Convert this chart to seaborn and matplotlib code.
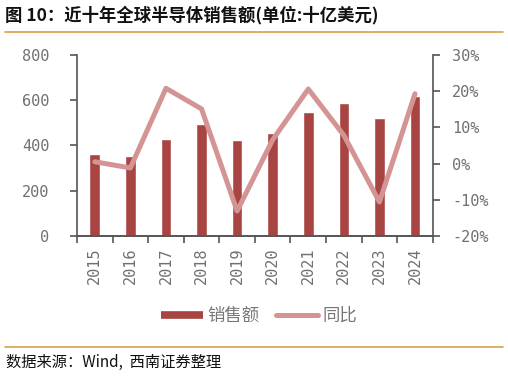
import numpy as np
import pandas as pd
import matplotlib
matplotlib.use("Agg")
import matplotlib.pyplot as plt
from matplotlib.lines import Line2D
import seaborn as sns

# 近十年全球半导体销售额 (十亿美元) 及同比
years = ["2015", "2016", "2017", "2018", "2019", "2020", "2021", "2022", "2023", "2024"]
sales = [362, 354, 427, 494, 426, 454, 547, 586, 520, 619]
yoy = [0.5, -1.2, 20.8, 15.1, -13.1, 6.6, 20.6, 7.8, -10.6, 19.3]

df = pd.DataFrame({"year": years, "sales": sales, "yoy": yoy})

sns.set_style("ticks")
plt.rcParams["font.family"] = ["Noto Sans CJK SC", "DejaVu Sans"]

bar_color = "#A84543"
line_color = "#D49493"
grey = "#707070"
mono = "DejaVu Sans Mono"

fig = plt.figure(figsize=(5.08, 3.78), dpi=100)
ax = fig.add_axes([0.1516, 0.3757, 0.7004, 0.4788])
ax2 = ax.twinx()

sns.barplot(data=df, x="year", y="sales", color=bar_color, width=0.3,
            saturation=1, ax=ax)
sns.lineplot(data=df, x="year", y="yoy", color=line_color, linewidth=3.6,
             ax=ax2)

ax.set_xlim(-0.5, len(years) - 0.5)
ax.set_ylim(0, 800)
ax.set_yticks([0, 200, 400, 600, 800])
ax2.set_ylim(-20, 30)
ax2.set_yticks([-20, -10, 0, 10, 20, 30])
ax2.set_yticklabels([f"{v}%" for v in range(-20, 31, 10)])

# ticks between categories, labels at centres
ax.set_xticks(np.arange(-0.5, len(years), 1.0))
ax.set_xticklabels([])
ax.set_xticks(np.arange(len(years)), minor=True)
ax.set_xticklabels(years, minor=True, rotation=90, family=mono,
                   fontsize=11, color=grey)
ax.tick_params(axis="x", which="minor", length=0, pad=8)
ax.tick_params(axis="x", which="major", length=5, width=1.2, color="#555555")
ax.tick_params(axis="y", length=5, width=1.2, color="#555555", pad=15)
ax2.tick_params(axis="y", length=5, width=1.2, color="#555555", pad=9)
for lab in ax.get_yticklabels() + ax2.get_yticklabels():
    lab.set_family(mono)
    lab.set_fontsize(11)
    lab.set_color(grey)

for a in (ax, ax2):
    a.set_xlabel("")
    a.set_ylabel("")
    for s in a.spines.values():
        s.set_color("#555555")
        s.set_linewidth(1.2)
    a.spines["top"].set_visible(False)
ax.spines["right"].set_visible(False)
ax2.spines["left"].set_visible(False)
if ax2.get_legend():
    ax2.get_legend().remove()

handles = [Line2D([], [], color=bar_color, linewidth=5.5, solid_capstyle="butt"),
           Line2D([], [], color=line_color, linewidth=3.6)]
fig.legend(handles, ["销售额", "同比"], loc="center", bbox_to_anchor=(0.51, 0.164),
           ncol=2, frameon=False, fontsize=12.5, labelcolor="#777777",
           handlelength=2.4, handletextpad=0.25, columnspacing=1.0)

# title and source
fig.text(0.01, 0.96, "图 10：近十年全球半导体销售额(单位:十亿美元)", fontsize=12.5,
         fontweight="bold", va="center", ha="left", color="#111111")
fig.add_artist(Line2D([0.01, 0.99], [0.915, 0.915], color="#D9A04A", linewidth=1.2))
fig.add_artist(Line2D([0.01, 0.99], [0.082, 0.082], color="#D9A04A", linewidth=1.2))
fig.text(0.012, 0.04, "数据来源：Wind,  西南证券整理", fontsize=11, style="italic",
         va="center", ha="left", color="#111111")

fig.savefig("out.png", dpi=100)
